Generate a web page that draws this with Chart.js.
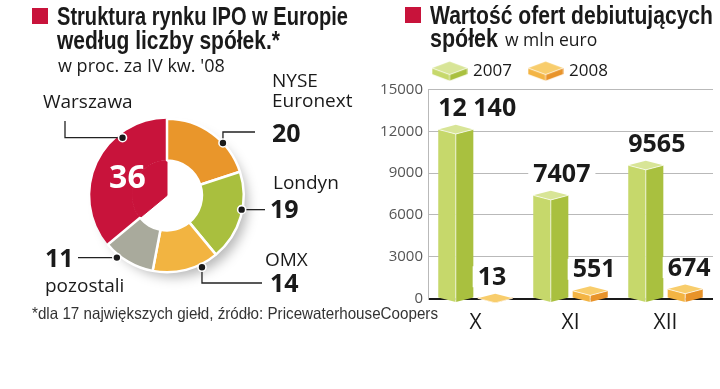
<!DOCTYPE html>
<html><head><meta charset="utf-8">
<script src="https://cdn.jsdelivr.net/npm/chart.js@4.4.1/dist/chart.umd.min.js"></script>
<style>
html,body{margin:0;padding:0;background:#fff}
#wrap{position:relative;width:720px;height:389px;overflow:hidden;background:#fff}
#pie,#bar{position:absolute;top:0}
#pie{left:0}
#bar{left:360px}
.t{position:absolute;white-space:nowrap;color:#1a1a1a}
.sq{position:absolute;width:16px;height:16px;background:#c8133b}
</style></head>
<body><div id="wrap">
<canvas id="pie" width="360" height="389"></canvas>
<canvas id="bar" width="360" height="389"></canvas>
<div class="sq" style="left:32px;top:8px"></div>
<div class="sq" style="left:405px;top:7px"></div>
</div>
<script>
// ---------- data ----------
const pieLabels = ['Warszawa', 'NYSE Euronext', 'Londyn', 'OMX', 'pozostali'];
const pieValues = [36, 20, 19, 14, 11];
const months = ['X', 'XI', 'XII'];
const seriesNames = ['2007', '2008'];
const values2007 = [12140, 7407, 9565];
const values2008 = [13, 551, 674];
const yTicks = [0, 3000, 6000, 9000, 12000, 15000];

// ---------- style ----------
const SANS = "'Liberation Sans',Arial,sans-serif";
const OPEN = "'Open Sans',sans-serif";
const ASC = {sans: 0.8465, open: 0.888};
const pieColors = ['#c8133b', '#e9962b', '#a9bf3e', '#f2b441', '#a9aa9c'];
const prismColors = [
  {left: '#c6d86b', right: '#a9c03f', top: '#d8e597'},
  {left: '#f3b443', right: '#e8932a', top: '#f8cd6c'}
];
const wrap = document.getElementById('wrap');

function addText(str, x, baseline, o) {
  const d = document.createElement('div');
  d.className = 't';
  d.textContent = str;
  const fam = o.sans ? SANS : OPEN;
  const asc = o.sans ? ASC.sans : ASC.open;
  d.style.left = x + 'px';
  d.style.top = (baseline - asc * o.size) + 'px';
  d.style.font = (o.weight || 400) + ' ' + o.size + 'px/' + o.size + 'px ' + fam;
  if (o.color) d.style.color = o.color;
  wrap.appendChild(d);
  if (o.fit) {
    const w = d.getBoundingClientRect().width;
    d.style.transformOrigin = '0 0';
    d.style.transform = 'scaleX(' + (o.fit / w) + ')';
  }
}

// titles (condensed by horizontal scaling to the original widths)
addText('Struktura rynku IPO w Europie', 57, 25, {sans: true, size: 25, weight: 700, fit: 291});
addText('według liczby spółek.*', 57, 49, {sans: true, size: 25, weight: 700, fit: 223});
addText("w proc. za IV kw. '08", 58, 72, {size: 18});
addText('Wartość ofert debiutujących', 430, 24, {sans: true, size: 25, weight: 700, fit: 283});
addText('spółek', 430, 47, {sans: true, size: 25, weight: 700, fit: 68});
addText('w mln euro', 505, 47, {size: 17.5});
addText('*dla 17 największych giełd, źródło: PricewaterhouseCoopers', 32, 319, {sans: true, size: 16.5, color: '#333', fit: 406});

// pie annotations (placement only)
const pieNotes = [
  {f: 0.71, r: 0.95, name: [43, 109], val: null, route: 'hv', end: [65, 121]},
  {f: 0.65, r: 1.0, name: [272, 88], val: [272, 142], route: 'vh', end: [255, 132]},
  {f: 0.42, r: 0.99, name: [273, 190], val: [270, 218], route: 'h', end: [265, 0]},
  {f: 0.27, r: 1.04, name: [265, 267], val: [270, 292], route: 'vh', end: [262, 283]},
  {f: 0.71, r: 1.04, name: [45, 293], val: [45, 267], route: 'h', end: [78, 0]}
];
pieLabels.forEach((lab, i) => {
  const n = pieNotes[i];
  lab.split(' ').forEach((line, k) => addText(line, n.name[0], n.name[1] + k * 20, {size: 19}));
  if (n.val) addText(String(pieValues[i]), n.val[0], n.val[1], {size: 25, weight: 700});
});

Chart.defaults.font.family = OPEN;

// ---------- doughnut ----------
const total = pieValues.reduce((a, b) => a + b, 0);
const restTotal = total - pieValues[0];

const piePlugin = {
  id: 'pieNotes',
  beforeDatasetsDraw(chart) {
    const a = chart.getDatasetMeta(0).data[0];
    const ctx = chart.ctx;
    ctx.save();
    ctx.beginPath();
    ctx.rect(0, 0, chart.width, chart.height);
    ctx.arc(a.x, a.y, a.outerRadius - 1, 0, Math.PI * 2, true);
    ctx.clip('evenodd');
    ctx.filter = 'blur(6px)';
    ctx.fillStyle = 'rgba(0,0,0,0.28)';
    ctx.beginPath();
    ctx.arc(a.x + 7, a.y + 8, a.outerRadius - 3, 0, Math.PI * 2);
    ctx.fill();
    ctx.restore();
  },
  afterDatasetsDraw(chart) {
    const ctx = chart.ctx;
    const arcs = chart.getDatasetMeta(0).data;
    ctx.save();
    const a0 = arcs[0];
    const mid = (a0.startAngle + a0.endAngle) / 2;
    const rr = a0.outerRadius * 0.57;
    ctx.fillStyle = '#fff';
    ctx.font = '700 32px ' + OPEN;
    ctx.textAlign = 'center';
    ctx.textBaseline = 'alphabetic';
    ctx.fillText(String(pieValues[0]), a0.x + rr * Math.cos(mid), a0.y + rr * Math.sin(mid) + 0.714 * 16);
    pieNotes.forEach((n, i) => {
      const a = arcs[i];
      const ang = a.startAngle + n.f * (a.endAngle - a.startAngle);
      const r = a.outerRadius * n.r;
      const dx = a.x + r * Math.cos(ang), dy = a.y + r * Math.sin(ang);
      ctx.strokeStyle = '#222';
      ctx.lineWidth = 1.3;
      ctx.beginPath();
      ctx.moveTo(dx, dy);
      if (n.route === 'h') ctx.lineTo(n.end[0], dy);
      else if (n.route === 'hv') { ctx.lineTo(n.end[0], dy); ctx.lineTo(n.end[0], n.end[1]); }
      else { ctx.lineTo(dx, n.end[1]); ctx.lineTo(n.end[0], n.end[1]); }
      ctx.stroke();
      ctx.beginPath();
      ctx.arc(dx, dy, 4, 0, Math.PI * 2);
      ctx.fillStyle = '#1a1a1a';
      ctx.fill();
      ctx.lineWidth = 1.6;
      ctx.strokeStyle = '#fff';
      ctx.stroke();
    });
    ctx.restore();
  }
};

new Chart(document.getElementById('pie'), {
  type: 'doughnut',
  data: {
    labels: pieLabels,
    datasets: [
      {
        data: pieValues,
        backgroundColor: pieColors,
        borderColor: '#fff',
        borderWidth: pieValues.map((v, i) => i === 0 ? 0 : 2.5),
        hoverBorderWidth: 0,
        weight: 0.545
      },
      {
        data: [pieValues[0], restTotal],
        backgroundColor: [pieColors[0], 'rgba(0,0,0,0)'],
        borderColor: [pieColors[0], 'rgba(0,0,0,0)'],
        borderWidth: [1, 0],
        hoverBorderWidth: 0,
        weight: 0.455
      }
    ]
  },
  options: {
    responsive: false,
    animation: false,
    events: [],
    cutout: 0,
    rotation: -pieValues[0] / total * 360,
    layout: {padding: {left: 89, right: 115, top: 117, bottom: 115}},
    plugins: {legend: {display: false}, tooltip: {enabled: false}}
  },
  plugins: [piePlugin]
});

// ---------- 3D bars ----------
function prism(ctx, x0, x1, yTop, base, d, c) {
  const xc = (x0 + x1) / 2;
  ctx.fillStyle = c.left;
  ctx.beginPath();
  ctx.moveTo(x0, yTop); ctx.lineTo(xc, yTop + d); ctx.lineTo(xc, base + d); ctx.lineTo(x0, base);
  ctx.closePath(); ctx.fill();
  ctx.fillStyle = c.right;
  ctx.beginPath();
  ctx.moveTo(xc, yTop + d); ctx.lineTo(x1, yTop); ctx.lineTo(x1, base); ctx.lineTo(xc, base + d);
  ctx.closePath(); ctx.fill();
  ctx.fillStyle = c.top;
  ctx.beginPath();
  ctx.moveTo(x0, yTop); ctx.lineTo(xc, yTop - d); ctx.lineTo(x1, yTop); ctx.lineTo(xc, yTop + d);
  ctx.closePath(); ctx.fill();
  ctx.strokeStyle = 'rgba(255,255,255,0.7)';
  ctx.lineWidth = 1;
  ctx.beginPath();
  ctx.moveTo(x0, yTop); ctx.lineTo(xc, yTop + d); ctx.lineTo(x1, yTop);
  ctx.moveTo(xc, yTop + d); ctx.lineTo(xc, base + d);
  ctx.stroke();
}

function makeIcon(c) {
  const cv = document.createElement('canvas');
  cv.width = 36; cv.height = 20;
  prism(cv.getContext('2d'), 0.5, 35.5, 7, 13, 6.5, c);
  return cv;
}
const icons = prismColors.map(makeIcon);

function fmt(v) {
  const s = String(v);
  return v >= 10000 ? s.slice(0, s.length - 3) + ' ' + s.slice(-3) : s;
}

const prismPlugin = {
  id: 'prism',
  afterLayout(chart) {
    // legend starts a little left of the plot area, not at the canvas edge
    chart.legend.left = chart.chartArea.left - 12;
  },
  afterDatasetsDraw(chart) {
    const ctx = chart.ctx;
    ctx.save();
    chart.data.datasets.forEach((ds, di) => {
      chart.getDatasetMeta(di).data.forEach((el) => {
        const w = el.width;
        const x0 = el.x - w / 2, x1 = el.x + w / 2;
        const d = w * 0.13;
        prism(ctx, x0, x1, el.y, el.base, d, prismColors[di]);
      });
    });
    ctx.font = '700 25px ' + OPEN;
    ctx.textAlign = 'left';
    ctx.textBaseline = 'alphabetic';
    chart.data.datasets.forEach((ds, di) => {
      chart.getDatasetMeta(di).data.forEach((el, j) => {
        const w = el.width;
        const x0 = el.x - w / 2;
        const d = w * 0.13;
        const txt = fmt(ds.data[j]);
        const tw = ctx.measureText(txt).width;
        const bl = el.y - d - 9;
        ctx.fillStyle = '#fff';
        ctx.fillRect(x0 - 5, bl - 18.5, tw + 10, 21);
        ctx.fillStyle = '#1a1a1a';
        ctx.fillText(txt, x0, bl);
      });
    });
    ctx.restore();
  }
};

new Chart(document.getElementById('bar'), {
  type: 'bar',
  data: {
    labels: months,
    datasets: [
      {label: seriesNames[0], data: values2007, backgroundColor: 'rgba(0,0,0,0)', borderWidth: 0,
       categoryPercentage: 0.83, barPercentage: 0.89},
      {label: seriesNames[1], data: values2008, backgroundColor: 'rgba(0,0,0,0)', borderWidth: 0,
       categoryPercentage: 0.83, barPercentage: 0.89}
    ]
  },
  options: {
    responsive: false,
    animation: false,
    events: [],
    layout: {padding: {left: 16, right: 7, top: 44, bottom: 42.3}},
    plugins: {
      tooltip: {enabled: false},
      legend: {
        display: true,
        position: 'top',
        align: 'start',
        labels: {
          usePointStyle: true,
          pointStyleWidth: 30,
          padding: 18.6,
          color: '#1a1a1a',
          font: {size: 17},
          generateLabels(chart) {
            return chart.data.datasets.map((ds, i) => ({
              text: ds.label, pointStyle: icons[i], datasetIndex: i, hidden: false,
              lineWidth: 0, fillStyle: 'rgba(0,0,0,0)', strokeStyle: 'rgba(0,0,0,0)', fontColor: '#1a1a1a'
            }));
          }
        }
      }
    },
    scales: {
      x: {
        grid: {display: false, drawTicks: false},
        border: {display: false},
        ticks: {font: {size: 21}, color: '#1a1a1a', padding: 11.5}
      },
      y: {
        min: yTicks[0],
        max: yTicks[yTicks.length - 1],
        afterBuildTicks(s) { s.ticks = yTicks.map(v => ({value: v})); },
        afterFit(s) { s.width = 52; },
        grid: {
          drawTicks: false,
          color: c => (c.tick && c.tick.value === 0) ? '#1a1a1a' : '#b9b9b9',
          lineWidth: c => (c.tick && c.tick.value === 0) ? 2 : 1
        },
        border: {display: true, color: '#b9b9b9'},
        ticks: {font: {size: 15}, color: '#555', padding: 5, callback: v => String(v)}
      }
    }
  },
  plugins: [prismPlugin]
});
</script>
</body></html>
